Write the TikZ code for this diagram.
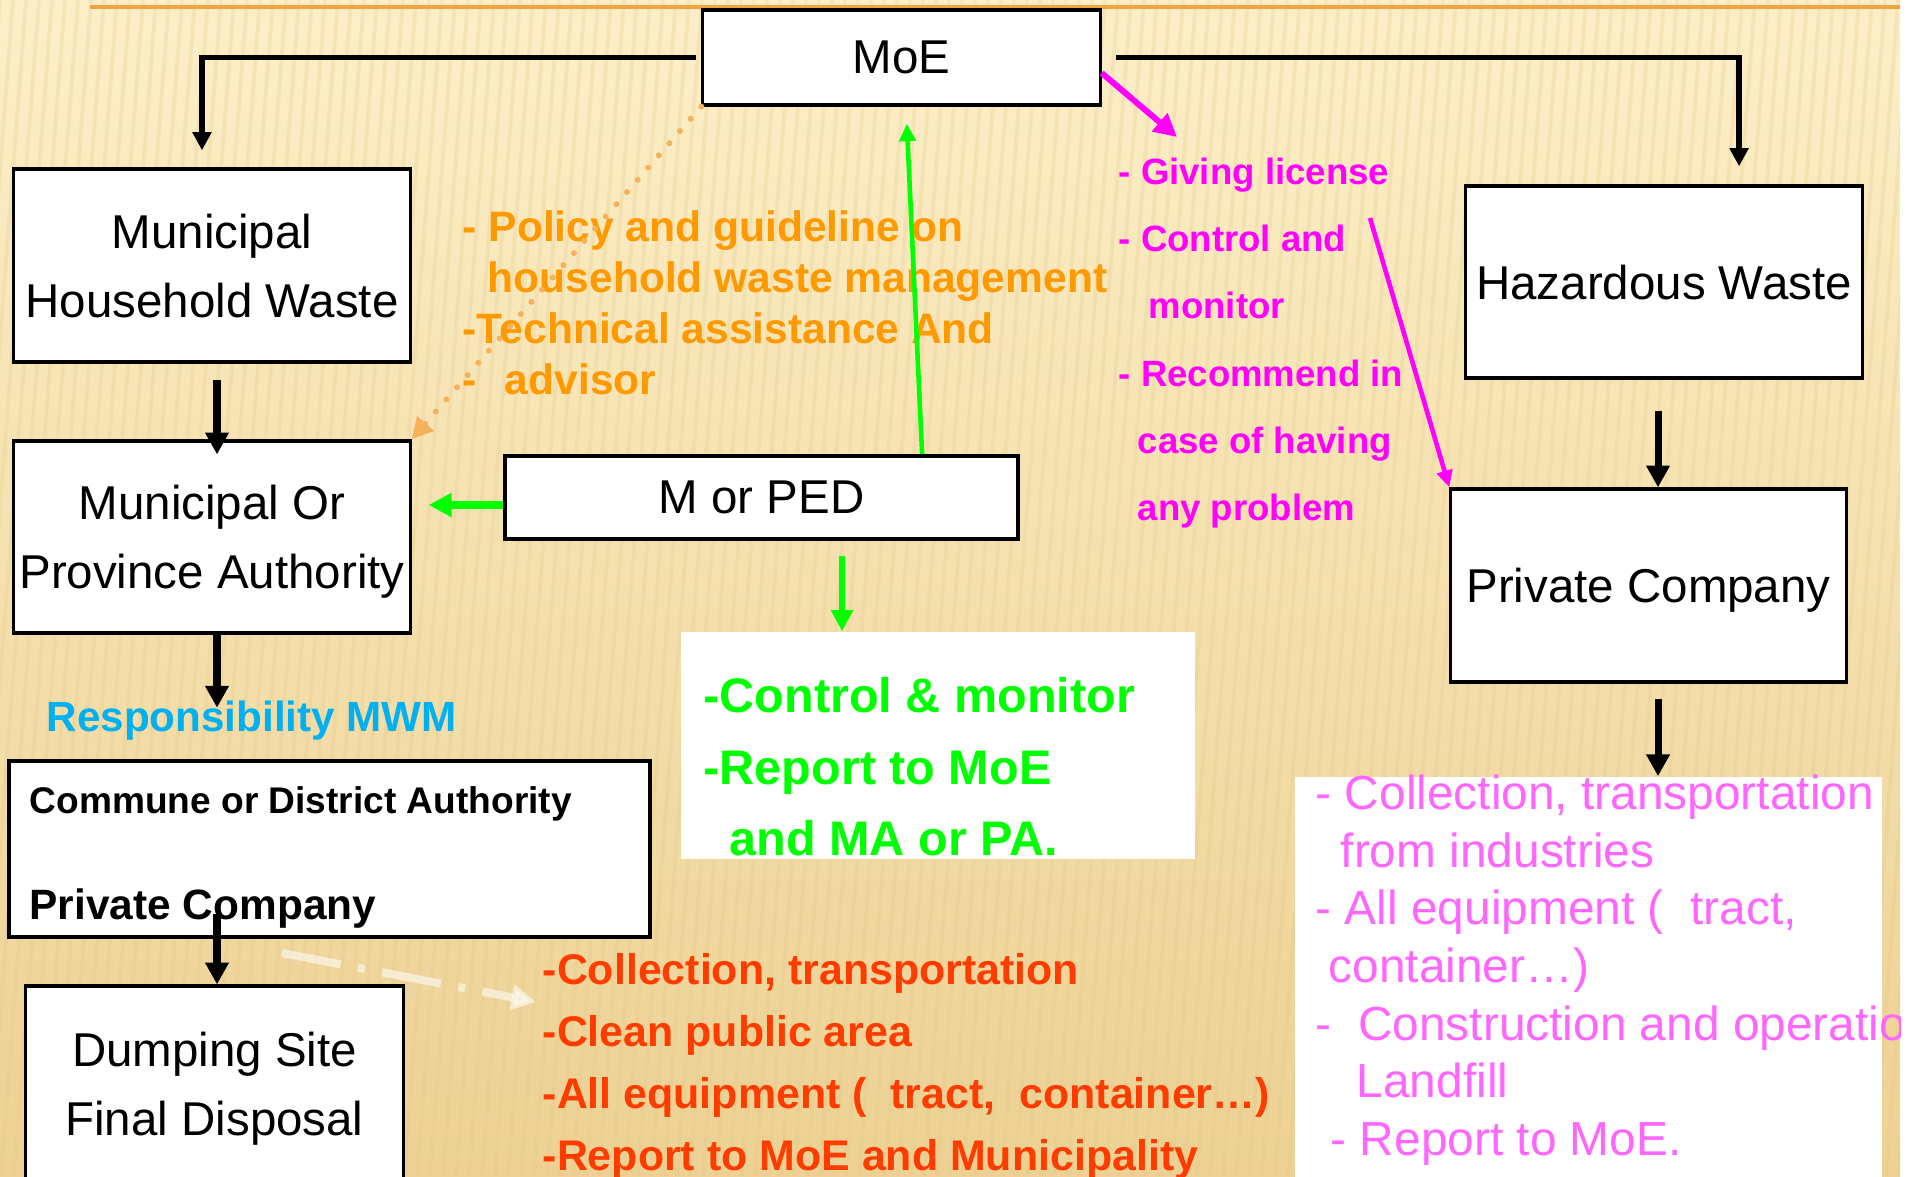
\documentclass[tikz,border=0pt]{standalone}
\usepackage{fontspec}
\setmainfont{Liberation Sans}
\usetikzlibrary{arrows.meta}

\definecolor{bgtop}{RGB}{252,239,200}
\definecolor{bgbot}{RGB}{237,209,148}
\definecolor{stripe}{RGB}{228,196,128}
\definecolor{topline}{RGB}{240,165,60}
\definecolor{polorange}{RGB}{255,153,0}
\definecolor{dotorange}{RGB}{246,178,90}
\definecolor{licmag}{RGB}{255,0,255}
\definecolor{indpink}{RGB}{255,102,255}
\definecolor{pedgreen}{RGB}{0,255,0}
\definecolor{collred}{RGB}{255,60,0}
\definecolor{respcyan}{RGB}{0,176,240}

\newcommand{\fsz}[2]{\fontsize{#1}{#2}\selectfont}

\begin{document}
\begin{tikzpicture}[x=0.01cm, y=-0.01cm]

    \tikzstyle{block} = [draw, fill=white, rectangle, line width=0.9pt, inner sep=0pt, align=center, text depth=0pt, font=\fsz{13.5}{19.6}]
    \tikzstyle{panel} = [fill=white, rectangle, inner sep=0pt]
    \tikzstyle{note} = [anchor=north west, inner sep=0pt, align=left]
    \tikzstyle{link} = [-{Triangle[length=6.2pt,width=6.4pt]}, line width=2pt]
    \tikzstyle{branch} = [-{Triangle[length=5.2pt,width=5.2pt]}, line width=1.7pt]
    \tikzstyle{gflow} = [pedgreen, -{Triangle[length=6pt,width=6pt]}, line width=1.6pt]
    \tikzstyle{mflow} = [licmag, -{Triangle[length=6.5pt,width=6.5pt]}, line width=1.7pt]

    \useasboundingbox (0,0) rectangle (1919,1176);
    \fill[white] (0,0) rectangle (1919,1176);

    \begin{scope}
    \clip (0,0) rectangle (1900,1176);
    \shade[top color=bgtop, bottom color=bgbot] (0,0) rectangle (1900,1176);
    \foreach \s in {0,13,...,2000}
        \draw[stripe, opacity=0.22, line width=1.1pt] (\s,0) -- (\s-90,1176);
    \draw[topline, line width=0.9pt] (90,7) -- (1900,7);

    % boxes
    \node[block, minimum width=3.97cm, minimum height=0.95cm] (moe) at (901.5,57.5) {MoE};
    \node[block, minimum width=3.96cm, minimum height=1.93cm] (mhw) at (212,265.5) {Municipal\\Household Waste};
    \node[block, minimum width=3.96cm, minimum height=1.92cm] (mopa) at (212,537) {Municipal Or\\Province Authority};
    \node[block, minimum width=5.13cm, minimum height=0.83cm, line width=1.2pt] (mped) at (761.5,497.5) {M or PED};
    \node[block, minimum width=3.96cm, minimum height=1.92cm] (haz) at (1664,282) {Hazardous Waste};
    \node[block, minimum width=3.95cm, minimum height=1.93cm] (pco) at (1648.5,585.5) {Private Company};
    \node[block, minimum width=6.41cm, minimum height=1.76cm, line width=1.3pt] (comm) at (329.5,849) {};
    \node[block, minimum width=3.77cm, minimum height=1.96cm] (dump) at (214.5,1084) {Dumping Site\\Final Disposal};
    \node[panel, minimum width=5.14cm, minimum height=2.27cm] (ctrlbox) at (938,745.5) {};
    \node[panel, minimum width=5.87cm, minimum height=4.1cm] (indbox) at (1588.5,982) {};

    % texts
    \node[note, text=polorange, font=\bfseries\fsz{12.1}{14.5}] (policy) at (462,210)
        {- Policy and guideline on\\\hspace*{0.25cm}household waste management\\-Technical assistance And\\-\hspace*{0.28cm}advisor};
    \node[note, text=licmag, font=\bfseries\fsz{10.4}{19.15}] (lic) at (1118,157)
        {- Giving license\\- Control and\\\hspace*{0.3cm}monitor\\- Recommend in\\\hspace*{0.19cm}case of having\\\hspace*{0.19cm}any problem};
    \node[note, text=respcyan, font=\bfseries\fsz{12}{14}] (resp) at (46,700) {Responsibility MWM};
    \node[note, font=\bfseries\fsz{10.55}{12}] (cda) at (29,786) {Commune or District Authority};
    \node[note, font=\bfseries\fsz{12.06}{14}] (pcl) at (29,888) {Private Company};
    \node[note, text=pedgreen, font=\bfseries\fsz{13.8}{20.3}] (ctrl) at (703,677)
        {-Control \& monitor\\-Report to MoE\\\hspace*{0.26cm}and MA or PA.};
    \node[note, text=collred, font=\bfseries\fsz{12.2}{17.6}] (coll) at (542,953)
        {-Collection, transportation\\-Clean public area\\-All equipment (~ tract,~ container…)\\-Report to MoE and Municipality};
    \node[note, text=indpink, font=\fsz{13.6}{16.4}] (ind) at (1315,774)
        {- Collection, transportation\\\hspace*{0.25cm}from industries\\- All equipment (~ tract,\\\hspace*{0.13cm}container…)\\-~ Construction and operation\\\hspace*{0.41cm}Landfill\\\hspace*{0.15cm}- Report to MoE.};

    \coordinate (licarrow) at (1177,137);
    \coordinate (licline) at (1370,218);
    \coordinate (fadestart) at (282,953);
    \coordinate (fadeend) at (536,1002);

    % black links
    \draw[branch, shorten >=0.17cm] ([xshift=-0.05cm]moe.west) -| ([xshift=-0.1cm]mhw.north);
    \draw[branch, shorten >=0.18cm] ([xshift=0.14cm]moe.east) -| ([xshift=0.75cm]haz.north);
    \draw[link, shorten <=0.16cm, shorten >=-0.15cm] ([xshift=0.05cm]mhw.south) -- ([xshift=0.05cm]mopa.north);
    \draw[link, shorten >=0.51cm] ([xshift=0.05cm]mopa.south) -- ([xshift=0.05cm]mopa.south |- comm.north);
    \draw[link, shorten <=-0.25cm] ([xshift=0.025cm]dump.north |- comm.south) -- ([xshift=0.025cm]dump.north);
    \draw[link, shorten <=0.31cm] ([xshift=-0.06cm]haz.south) -- ([xshift=-0.06cm]haz.south |- pco.north);
    \draw[link, shorten <=0.15cm] ([xshift=0.095cm]pco.south) -- ([xshift=0.095cm]pco.south |- indbox.north);

    % green links
    \draw[gflow, line width=1.3pt, -{Triangle[length=5pt,width=4.6pt]}, shorten >=0.17cm] ([xshift=1.605cm]mped.north) -- ([xshift=0.045cm]moe.south);
    \draw[gflow, line width=2pt, -{Triangle[length=6.5pt,width=6.5pt]}, shorten >=0.17cm] ([yshift=-0.075cm]mped.west) -- ([yshift=-0.075cm]mped.west -| mopa.east);
    \draw[gflow, shorten <=0.15cm] ([xshift=0.805cm]mped.south) -- ([xshift=0.805cm]mped.south |- ctrlbox.north);

    % magenta links
    \draw[mflow] ([yshift=-0.155cm]moe.east) -- (licarrow);
    \draw[mflow, line width=1.3pt, -{Triangle[length=4.8pt,width=4.4pt]}] (licline) -- (pco.north west);

    % orange dotted and faded links
    \draw[dotorange, line width=1.7pt, line cap=round, dash pattern=on 0pt off 4.6pt, -{Triangle[length=6pt,width=6pt]}] (moe.south west) -- (mopa.north east);
    \draw[white, opacity=0.55, line width=2.3pt, dash pattern=on 17pt off 5pt on 2pt off 5pt, -{Triangle[length=7pt,width=7pt]}] (fadestart) -- (fadeend);
    \end{scope}

\end{tikzpicture}
\end{document}
